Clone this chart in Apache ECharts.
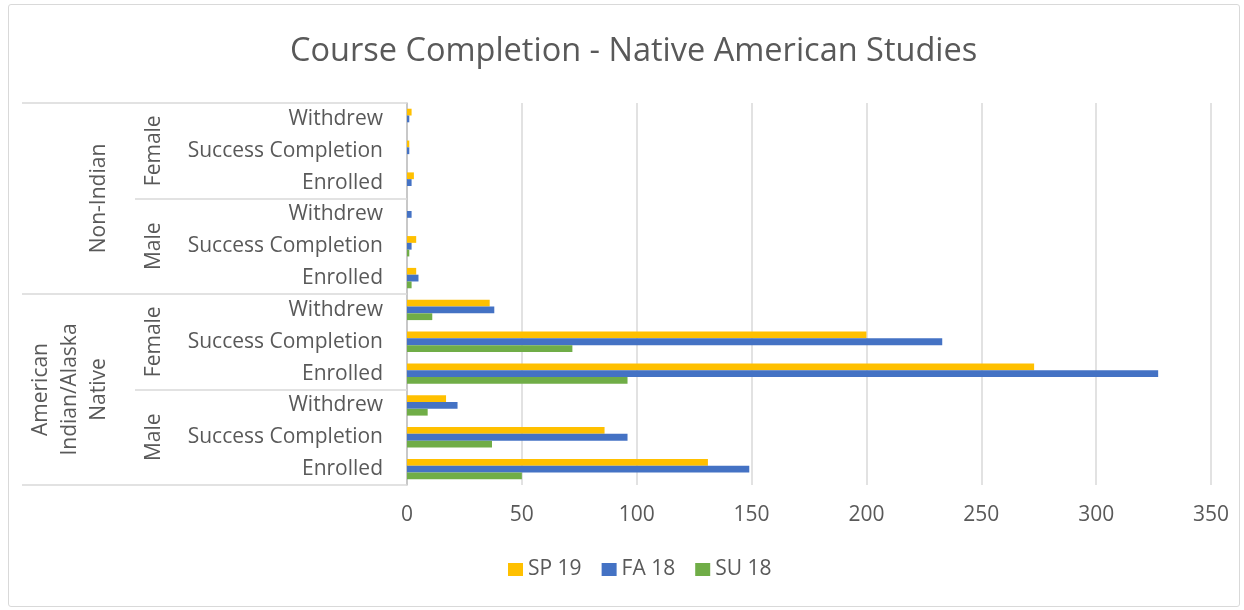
<!DOCTYPE html>
<html>
<head>
<meta charset="utf-8">
<title>Course Completion - Native American Studies</title>
<script src="https://cdn.jsdelivr.net/npm/echarts@6/dist/echarts.min.js"></script>
<style>
    body {margin: 0;background: #fff;}
    #main {position: relative;width: 1244px;height: 610px;}
    #chart {width: 1244px;height: 610px;}
    .frame {position: absolute;left: 8px;top: 4px;width: 1230px;height: 601px;border: 1.5px solid #d9d9d9;border-radius: 3px;pointer-events: none;}
</style>
</head>
<body>
<div id="main">
    <div id="chart"></div>
    <div class="frame"></div>
</div>
<script>
// categories, listed bottom to top
const courseCats = ['Enrolled', 'Success Completion', 'Withdrew',
    'Enrolled', 'Success Completion', 'Withdrew',
    'Enrolled', 'Success Completion', 'Withdrew',
    'Enrolled', 'Success Completion', 'Withdrew'];
const genderCats = ['Male', 'Female', 'Male', 'Female'];
const groupCats = ['American\nIndian/Alaska\nNative', 'Non-Indian'];

const seriesNames = ['SP 19', 'FA 18', 'SU 18'];
const sp19 = [131, 86, 17, 273, 200, 36, 4, 4, 0, 3, 1, 2];
const fa18 = [149, 96, 22, 327, 233, 38, 5, 2, 2, 2, 1, 1];
const su18 = [50, 37, 9, 96, 72, 11, 2, 1, 0, 0, 0, 0];

const xTicks = [0, 350, 50]; // min, max, interval

const font = 'Open Sans';
const textColor = '#595959';
const lineColor = '#d9d9d9';

let chart = echarts.init(document.getElementById('chart'));
chart.setOption({
    animation: false,
    color: ['#ffc000', '#4472c4', '#70ad47'],
    textStyle: {fontFamily: font},
    title: {
        text: 'Course Completion - Native American Studies',
        left: 285,
        top: 30,
        textStyle: {fontFamily: font, fontSize: 32.5, fontWeight: 'normal', color: textColor}
    },
    legend: {
        data: seriesNames,
        left: 503,
        top: 554,
        itemWidth: 15,
        itemHeight: 13,
        itemGap: 20,
        icon: 'rect',
        textStyle: {fontFamily: font, fontSize: 21, color: textColor}
    },
    grid: {left: 407, right: 33, top: 103, bottom: 125, outerBoundsMode: 'none'},
    xAxis: {
        type: 'value',
        min: xTicks[0],
        max: xTicks[1],
        interval: xTicks[2],
        axisLine: {show: false},
        axisTick: {show: false},
        splitLine: {lineStyle: {color: lineColor, width: 1.5}},
        axisLabel: {margin: 20, fontFamily: font, fontSize: 21, color: textColor}
    },
    yAxis: [
        {
            type: 'category',
            data: courseCats,
            axisLine: {lineStyle: {color: '#bfbfbf', width: 1.5}},
            axisTick: {show: false},
            axisLabel: {interval: 0, margin: 24, fontFamily: font, fontSize: 21, color: textColor, padding: [4, 0, 0, 0]}
        },
        {
            type: 'category',
            data: genderCats,
            position: 'left',
            axisLine: {show: false},
            axisTick: {show: true, interval: 0, length: 272, lineStyle: {color: lineColor, width: 1.5}},
            axisLabel: {rotate: 90, margin: 242, fontFamily: font, fontSize: 21, color: textColor}
        },
        {
            type: 'category',
            data: groupCats,
            position: 'left',
            axisLine: {show: false},
            axisTick: {show: true, interval: 0, length: 385, lineStyle: {color: lineColor, width: 1.5}},
            axisLabel: {rotate: 90, margin: 293, lineHeight: 29, fontFamily: font, fontSize: 21, color: textColor}
        }
    ],
    series: [
        {name: seriesNames[0], type: 'bar', data: sp19, barGap: 0, barCategoryGap: '36%'},
        {name: seriesNames[1], type: 'bar', data: fa18, barGap: 0, barCategoryGap: '36%'},
        {name: seriesNames[2], type: 'bar', data: su18, barGap: 0, barCategoryGap: '36%'}
    ]
});
</script>
</body>
</html>
